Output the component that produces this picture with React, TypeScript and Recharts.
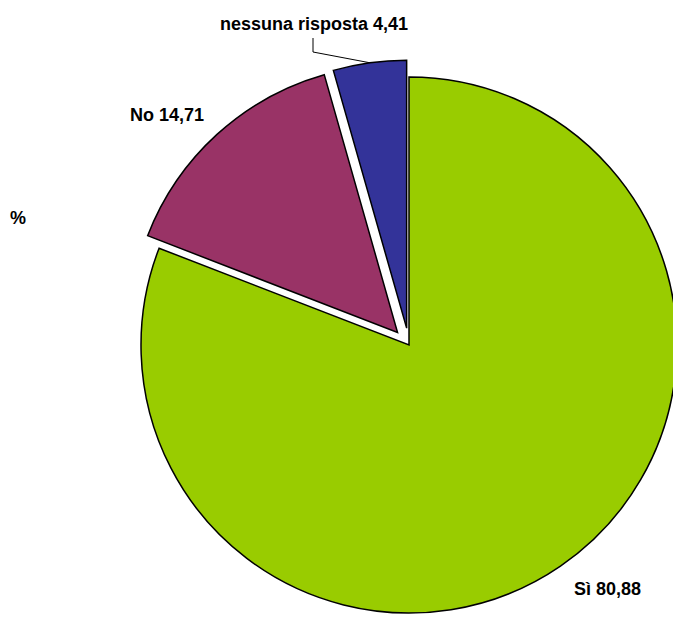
import { PieChart, Pie, Cell, Sector } from "recharts";

const categories = ["Sì", "No", "nessuna risposta"];
const percentages = [80.88, 14.71, 4.41];
const sliceColors = ["#99CC00", "#993366", "#333399"];
const exploded = [0, 17, 17];

const RAD = Math.PI / 180;

const chartData = categories.map((name, i) => ({ name, value: percentages[i] }));

const fmt = (v: number) => v.toFixed(2).replace(".", ",");

function ExplodedSector(props: any) {
  const { cx, cy, midAngle, index } = props;
  const d = exploded[index] ?? 0;
  const dx = d * Math.cos(-midAngle * RAD);
  const dy = d * Math.sin(-midAngle * RAD);
  return <Sector {...props} cx={cx + dx} cy={cy + dy} />;
}

// label text offsets from the slice's outer midpoint
const labelShift = [
  { dx: 47, dy: 23 },
  { dx: -50, dy: -19 },
  { dx: 0, dy: 0 }
];

function renderLabel(props: any) {
  const { cx, cy, midAngle, outerRadius, index, name, value } = props;
  const d = exploded[index] ?? 0;
  const ox = cx + d * Math.cos(-midAngle * RAD);
  const oy = cy + d * Math.sin(-midAngle * RAD);
  const px = ox + outerRadius * Math.cos(-midAngle * RAD);
  const py = oy + outerRadius * Math.sin(-midAngle * RAD);
  const text = `${name} ${fmt(value)}`;
  const style = { fontFamily: "Arial, 'Liberation Sans', sans-serif", fontWeight: 700, fontSize: 18 };

  if (index === 2) {
    const tx = 314;
    const ty = 24;
    return (
      <g key={`lbl-${index}`}>
        <polyline
          points={`${tx - 1},${ty + 14} ${tx - 1},${ty + 28} ${px},${py}`}
          fill="none"
          stroke="#000"
          strokeWidth={1}
        />
        <text x={tx} y={ty} textAnchor="middle" dominantBaseline="central" fill="#000" style={style}>
          {text}
        </text>
      </g>
    );
  }
  const s = labelShift[index];
  return (
    <text
      key={`lbl-${index}`}
      x={px + s.dx}
      y={py + s.dy}
      textAnchor="middle"
      dominantBaseline="central"
      fill="#000"
      style={style}
    >
      {text}
    </text>
  );
}

export default function App() {
  return (
    <div style={{ position: "absolute", left: 0, top: 0, width: 673, height: 617, background: "#fff" }}>
      <PieChart width={673} height={617} margin={{ top: 0, right: 0, bottom: 0, left: 0 }}>
        <text
          x={18}
          y={218}
          textAnchor="middle"
          dominantBaseline="central"
          style={{ fontFamily: "Arial, 'Liberation Sans', sans-serif", fontWeight: 700, fontSize: 18 }}
        >
          %
        </text>
        <Pie
          data={chartData}
          dataKey="value"
          nameKey="name"
          cx={409}
          cy={345}
          outerRadius={268}
          startAngle={90}
          endAngle={-270}
          stroke="#000"
          strokeWidth={1.5}
          shape={ExplodedSector}
          label={renderLabel}
          labelLine={false}
          isAnimationActive={false}
        >
          {chartData.map((entry, i) => (
            <Cell key={entry.name} fill={sliceColors[i]} />
          ))}
        </Pie>
      </PieChart>
    </div>
  );
}
